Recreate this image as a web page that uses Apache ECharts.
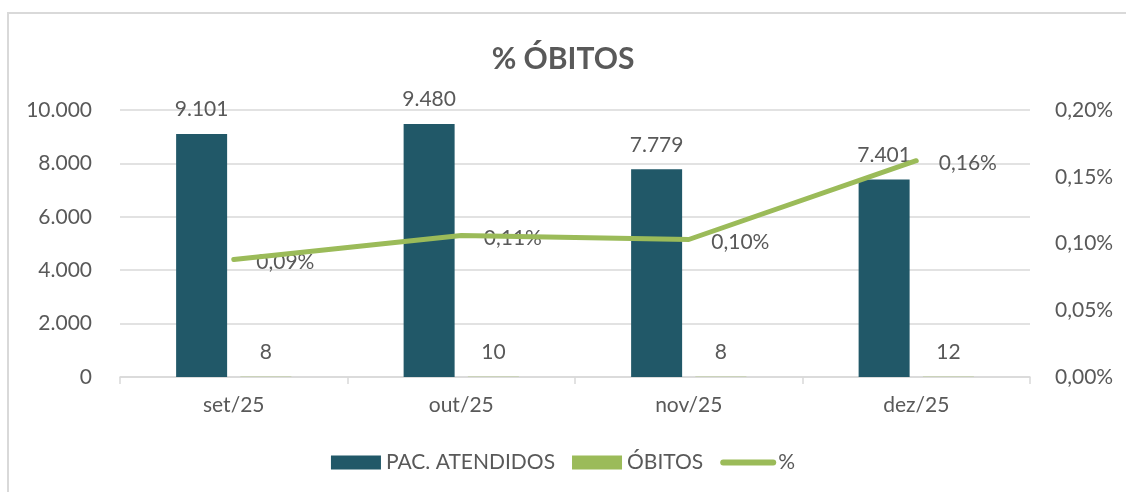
<!DOCTYPE html>
<html>
<head>
<meta charset="utf-8">
<script src="https://cdn.jsdelivr.net/npm/echarts@6/dist/echarts.min.js"></script>
<style>html,body{margin:0;padding:0;background:#fff;}#c{width:1126px;height:492px;}</style>
</head>
<body>
<div id="c"></div>
<script>
const categories = ['set/25', 'out/25', 'nov/25', 'dez/25'];
const pacAtendidos = [9101, 9480, 7779, 7401];
const obitos = [8, 10, 8, 12];
const percent = [0.088, 0.106, 0.103, 0.162];
const leftTicks = { min: 0, max: 10000, interval: 2000 };
const rightTicks = { min: 0, max: 0.20, interval: 0.05 };

const txt = '#595959';
const green = '#9BBB59';
const font = 'Lato, "Noto Sans", sans-serif';
const fs = 21;
const fmtThousands = v => String(v).replace(/\B(?=(\d{3})+(?!\d))/g, '.');
const fmtPct = v => v.toFixed(2).replace('.', ',') + '%';

const chart = echarts.init(document.getElementById('c'), null, { renderer: 'canvas' });
chart.setOption({
  backgroundColor: '#fff',
  animation: false,
  textStyle: { fontFamily: font, color: txt },
  graphic: [{
    type: 'polyline',
    shape: { points: [[8, 492], [8, 13], [1126, 13]] },
    style: { stroke: '#d9d9d9', lineWidth: 2, fill: null },
    silent: true
  }],
  title: {
    text: '% ÓBITOS', left: 'center', top: 39,
    textStyle: { fontFamily: font, fontSize: 30, fontWeight: 'bold', color: txt }
  },
  legend: {
    bottom: 14, left: 'center', itemWidth: 50, itemHeight: 14, itemGap: 17,
    textStyle: { fontFamily: font, fontSize: fs, color: txt },
    data: [
      { name: 'PAC. ATENDIDOS', icon: 'rect' },
      { name: 'ÓBITOS', icon: 'rect' },
      { name: '%', itemStyle: { opacity: 0 }, lineStyle: { width: 6, cap: 'round', color: green } }
    ]
  },
  grid: { left: 120, right: 96, top: 110, bottom: 115 },
  xAxis: {
    type: 'category', data: categories,
    axisLine: { lineStyle: { color: '#d9d9d9', width: 1.5 } },
    axisTick: { show: true, length: 7, lineStyle: { color: '#d9d9d9', width: 1.5 } },
    axisLabel: { fontFamily: font, fontSize: fs, color: txt, margin: 18 }
  },
  yAxis: [
    {
      type: 'value', min: leftTicks.min, max: leftTicks.max, interval: leftTicks.interval,
      axisLine: { show: false }, axisTick: { show: false },
      splitLine: { lineStyle: { color: '#d9d9d9', width: 1.5 } },
      axisLabel: { fontFamily: font, fontSize: fs, color: txt, margin: 28, formatter: fmtThousands }
    },
    {
      type: 'value', min: rightTicks.min, max: rightTicks.max, interval: rightTicks.interval,
      axisLine: { show: false }, axisTick: { show: false }, splitLine: { show: false },
      axisLabel: { fontFamily: font, fontSize: fs, color: txt, margin: 25, formatter: fmtPct }
    }
  ],
  series: [
    {
      name: 'PAC. ATENDIDOS', type: 'bar', data: pacAtendidos, yAxisIndex: 0,
      barWidth: 51, barGap: '26%',
      itemStyle: { color: '#215868' },
      label: { show: true, position: 'top', distance: 14, fontFamily: font, fontSize: fs, color: txt, formatter: p => fmtThousands(p.value) }
    },
    {
      name: 'ÓBITOS', type: 'bar', data: obitos, yAxisIndex: 0,
      barWidth: 51,
      itemStyle: { color: green },
      label: { show: true, position: 'top', distance: 14, fontFamily: font, fontSize: fs, color: txt }
    },
    {
      name: '%', type: 'line', data: percent, yAxisIndex: 1,
      symbol: 'none', z: 5,
      lineStyle: { color: green, width: 5, cap: 'round', join: 'round' },
      itemStyle: { color: green }
    },
    {
      name: '%labels', type: 'scatter', data: percent, yAxisIndex: 1,
      symbolSize: 1, itemStyle: { color: green }, z: 4, silent: true,
      label: { show: true, position: 'right', distance: 22, offset: [0, 3], fontFamily: font, fontSize: fs, color: txt, opacity: 1, formatter: p => fmtPct(p.value) }
    }
  ]
});
</script>
</body>
</html>
